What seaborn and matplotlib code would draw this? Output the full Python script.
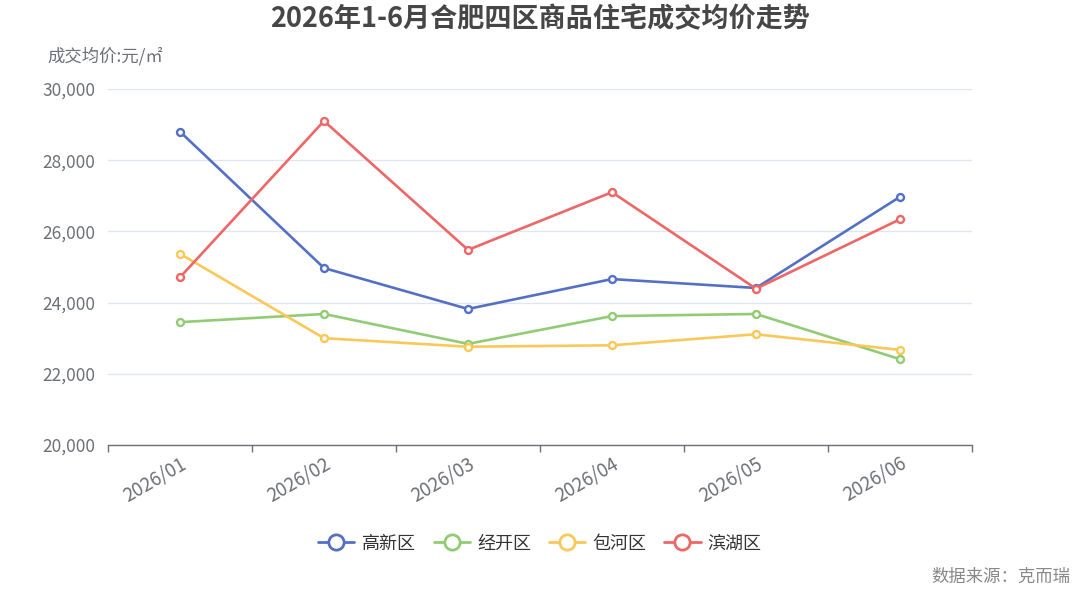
import matplotlib
matplotlib.use("Agg")
import matplotlib.pyplot as plt
import seaborn as sns
import pandas as pd
from matplotlib.lines import Line2D

months = ["2026/01", "2026/02", "2026/03", "2026/04", "2026/05", "2026/06"]
districts = ["高新区", "经开区", "包河区", "滨湖区"]
gaoxin = [28800, 24970, 23820, 24660, 24410, 26970]
jingkai = [23450, 23680, 22840, 23620, 23680, 22410]
baohe = [25370, 23000, 22760, 22800, 23110, 22670]
binhu = [24710, 29100, 25480, 27100, 24390, 26340]
colors = ["#5470c6", "#91cc75", "#fac858", "#ee6666"]

sns.set_theme(style="white")
plt.rcParams['font.family'] = ['Noto Sans CJK SC', 'DejaVu Sans']

rows = []
for d, vals in zip(districts, [gaoxin, jingkai, baohe, binhu]):
    for m, v in zip(months, vals):
        rows.append({"month": m, "district": d, "price": v})
df = pd.DataFrame(rows)
df["pos"] = df["month"].map({m: i for i, m in enumerate(months)})

fig = plt.figure(figsize=(10.8, 5.93), dpi=100)
ax = fig.add_axes([0.1, 0.2496, 0.8, 0.6004])

sns.lineplot(data=df, x="pos", y="price", hue="district", hue_order=districts,
             palette=colors, linewidth=1.9, marker="o", markersize=5.0,
             markerfacecolor="white", markeredgewidth=1.7, ax=ax, legend=False)
for line, c in zip(ax.lines, colors):
    line.set_markeredgecolor(c)

ax.set_xlim(-0.5, 5.5)
ax.set_ylim(20000, 30000)
ax.set_yticks([20000, 22000, 24000, 26000, 28000, 30000])
ax.set_yticklabels([f"{v:,}" for v in [20000, 22000, 24000, 26000, 28000, 30000]],
                   fontsize=12.5, color="#6e7079")
ax.yaxis.grid(True, color="#e0e6f1", linewidth=1)
ax.set_axisbelow(True)
ax.set_xticks(range(len(months)))
ax.set_xticklabels(months, rotation=30, ha="right", rotation_mode="anchor",
                   fontsize=13.5, color="#6e7079")
ax.set_xticks([i - 0.5 for i in range(len(months) + 1)], minor=True)
ax.tick_params(axis="x", which="major", length=0, pad=6)
ax.tick_params(axis="x", which="minor", length=5, color="#6e7079", width=1, direction="out", bottom=True)
ax.tick_params(axis="y", length=0, pad=9)
for s in ["top", "right", "left"]:
    ax.spines[s].set_visible(False)
ax.spines["bottom"].set_color("#6e7079")
ax.spines["bottom"].set_linewidth(1)
ax.set_xlabel("")
ax.set_ylabel("")

fig.text(0.5, 0.968, "2026年1-6月合肥四区商品住宅成交均价走势", ha="center", va="center",
         fontsize=19.5, fontweight="bold", color="#464646")
fig.text(0.044, 0.905, "成交均价:元/㎡", ha="left", va="center", fontsize=12.5, color="#6e7079")
fig.text(0.991, 0.028, "数据来源：克而瑞", ha="right", va="center", fontsize=12.5, color="#888888")

handles = [Line2D([0], [0], color=c, linewidth=2, marker="o", markersize=11,
                  markerfacecolor="white", markeredgewidth=2, markeredgecolor=c) for c in colors]
fig.legend(handles, districts, loc="center", bbox_to_anchor=(0.5, 0.083), ncol=4,
           frameon=False, fontsize=13, handlelength=2.0, columnspacing=1.0, handletextpad=0.4,
           labelcolor="#333333")

fig.savefig("out.png", dpi=100, facecolor="white")
